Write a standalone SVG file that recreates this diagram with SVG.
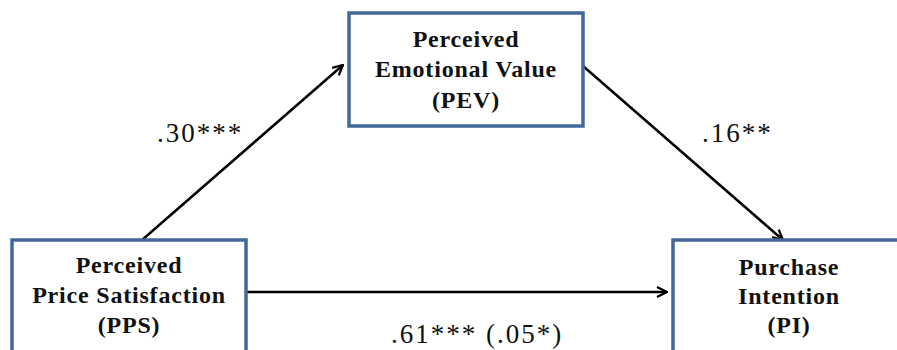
<svg xmlns="http://www.w3.org/2000/svg" width="897" height="350" viewBox="0 0 897 350">
<style>
.box{fill:#fff;stroke:#41699a;stroke-width:3.5}
.nt{font-family:'Liberation Serif','DejaVu Serif',serif;font-weight:bold;font-size:24px;letter-spacing:0.8px;text-anchor:middle;fill:#111}
.lb{font-family:'Liberation Serif','DejaVu Serif',serif;font-size:27px;letter-spacing:2px;fill:#111}
.ed{stroke:#000;stroke-width:2.5;fill:none;marker-end:url(#ah)}
</style>
<defs>
<marker id="ah" viewBox="0 0 12 12" refX="11" refY="6" markerWidth="12" markerHeight="12" markerUnits="userSpaceOnUse" orient="auto">
<path d="M1,1 L11,6 L1,11" fill="none" stroke="#000" stroke-width="2.3"/>
</marker>
</defs>
<rect width="897" height="350" fill="#fff"/>
<g id="connectors">
<line class="ed" x1="142" y1="240" x2="343" y2="65"/>
<line class="ed" x1="583" y1="66" x2="783" y2="240"/>
<line class="ed" x1="246" y1="292" x2="667" y2="292"/>
</g>
<g id="PEV">
<rect class="box" x="349" y="13" width="234" height="113"/>
<text class="nt" x="466" y="47">Perceived</text>
<text class="nt" x="466" y="77">Emotional Value</text>
<text class="nt" x="466" y="108">(PEV)</text>
</g>
<g id="PPS">
<rect class="box" x="12" y="240" width="234" height="120"/>
<text class="nt" x="129" y="273">Perceived</text>
<text class="nt" x="129" y="303">Price Satisfaction</text>
<text class="nt" x="129" y="333">(PPS)</text>
</g>
<g id="PI">
<rect class="box" x="673" y="240" width="240" height="120"/>
<text class="nt" x="789" y="275">Purchase</text>
<text class="nt" x="789" y="304">Intention</text>
<text class="nt" x="789" y="333">(PI)</text>
</g>
<g id="labels">
<text class="lb" x="157" y="142">.30***</text>
<text class="lb" x="702" y="142">.16**</text>
<text class="lb" x="391" y="343">.61*** (.05*)</text>
</g>
</svg>
